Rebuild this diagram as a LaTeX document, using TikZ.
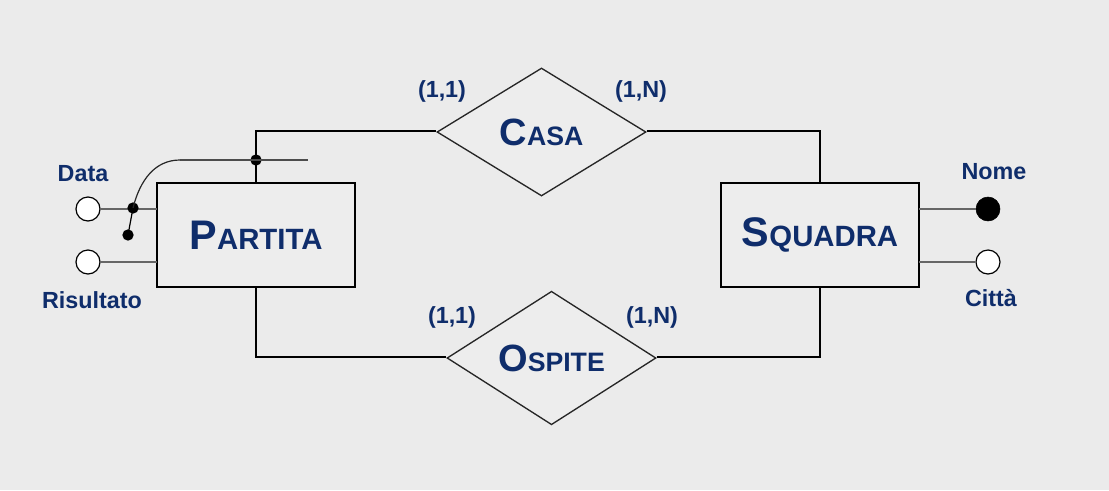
\documentclass[tikz,border=0pt]{standalone}
\usepackage{fontspec}
\setmainfont{Liberation Sans}
\usetikzlibrary{shapes.geometric}
\definecolor{bg}{HTML}{EBEBEB}
\definecolor{txt}{HTML}{0F2D6B}
\definecolor{fillc}{HTML}{EDEDED}
\begin{document}
\begin{tikzpicture}[x=0.75pt,y=-0.75pt,
  ent/.style={draw=black,line width=1.5pt,fill=fillc,minimum width=148.5pt,minimum height=78pt,inner sep=0pt,text=txt,font=\bfseries},
  rel/.style={draw=black!85,line width=1pt,fill=fillc,diamond,minimum width=156.75pt,minimum height=96pt,inner sep=0pt,text=txt,font=\bfseries},
  conn/.style={line width=1.3pt,black},
  attrline/.style={line width=0.8pt,black!60},
  attr/.style={circle,draw=black,line width=0.9pt,fill=white,minimum size=18pt,inner sep=0pt},
  key/.style={circle,draw=black,fill=black,minimum size=18pt,inner sep=0pt},
  dot/.style={circle,fill=black,minimum size=8.5pt,inner sep=0pt},
  lbl/.style={text=txt,font=\bfseries\fontsize{17.5}{20}\selectfont,inner sep=0pt}
]
\fill[bg] (0,0) rectangle (1109,490);
\useasboundingbox (0,0) rectangle (1109,490);

\node[ent] (partita) at (256,235) {{\fontsize{31}{34}\selectfont P}{\fontsize{22}{24}\selectfont ARTITA}};
\node[ent] (squadra) at (820,235) {{\fontsize{31}{34}\selectfont S}{\fontsize{22}{24}\selectfont QUADRA}};
\node[rel] (casa) at (541.5,132) {{\fontsize{28.5}{30}\selectfont C}{\fontsize{20}{22}\selectfont ASA}};
\node[rel] (ospite) at (551.5,358) {{\fontsize{28.5}{30}\selectfont O}{\fontsize{20}{22}\selectfont SPITE}};

\coordinate (c1) at (256,131);
\coordinate (c2) at (820,131);
\coordinate (c3) at (256,357);
\coordinate (c4) at (820,357);
\draw[conn] (partita.north) -- (c1) -- (casa.west |- c1);
\draw[conn] (casa.east |- c2) -- (c2) -- (squadra.north);
\draw[conn] (partita.south) -- (c3) -- (ospite.west |- c3);
\draw[conn] (ospite.east |- c4) -- (c4) -- (squadra.south);

% attributes
\node[attr] (data) at (88,209) {};
\node[attr] (risultato) at (88,262) {};
\node[key] (nome) at (988,209) {};
\node[attr] (citta) at (988,262) {};
\coordinate (pd) at (157,209);
\coordinate (pr) at (157,262);
\coordinate (sn) at (919,209);
\coordinate (sc) at (919,262);
\draw[attrline] (data) -- (pd);
\draw[attrline] (risultato) -- (pr);
\draw[attrline] (nome) -- (sn);
\draw[attrline] (citta) -- (sc);

\node[lbl] (ldata) at (83,174) {Data};
\node[lbl] (lris) at (92,300) {Risultato};
\node[lbl] (lnome) at (994,172) {Nome};
\node[lbl] (lcitta) at (991,298) {Città};

% external identifier
\node[dot] (d1) at (256,160) {};
\node[dot] (d2) at (133,208) {};
\node[dot] (d3) at (128,235) {};
\coordinate (ia) at (180,160);
\coordinate (ib) at (308,160);
\draw[line width=0.8pt,black!70] (ia) -- (ib);
\draw[line width=0.9pt,black!85] (ia) .. controls (155,160) and (140,180) .. (d2.center);
\draw[line width=0.9pt,black] (d2.center) -- (d3.center);

% cardinalities
\node[lbl] (k1) at (442,91) {(1,1)};
\node[lbl] (k2) at (641,91) {(1,N)};
\node[lbl] (k3) at (452,317) {(1,1)};
\node[lbl] (k4) at (652,317) {(1,N)};
\end{tikzpicture}
\end{document}
